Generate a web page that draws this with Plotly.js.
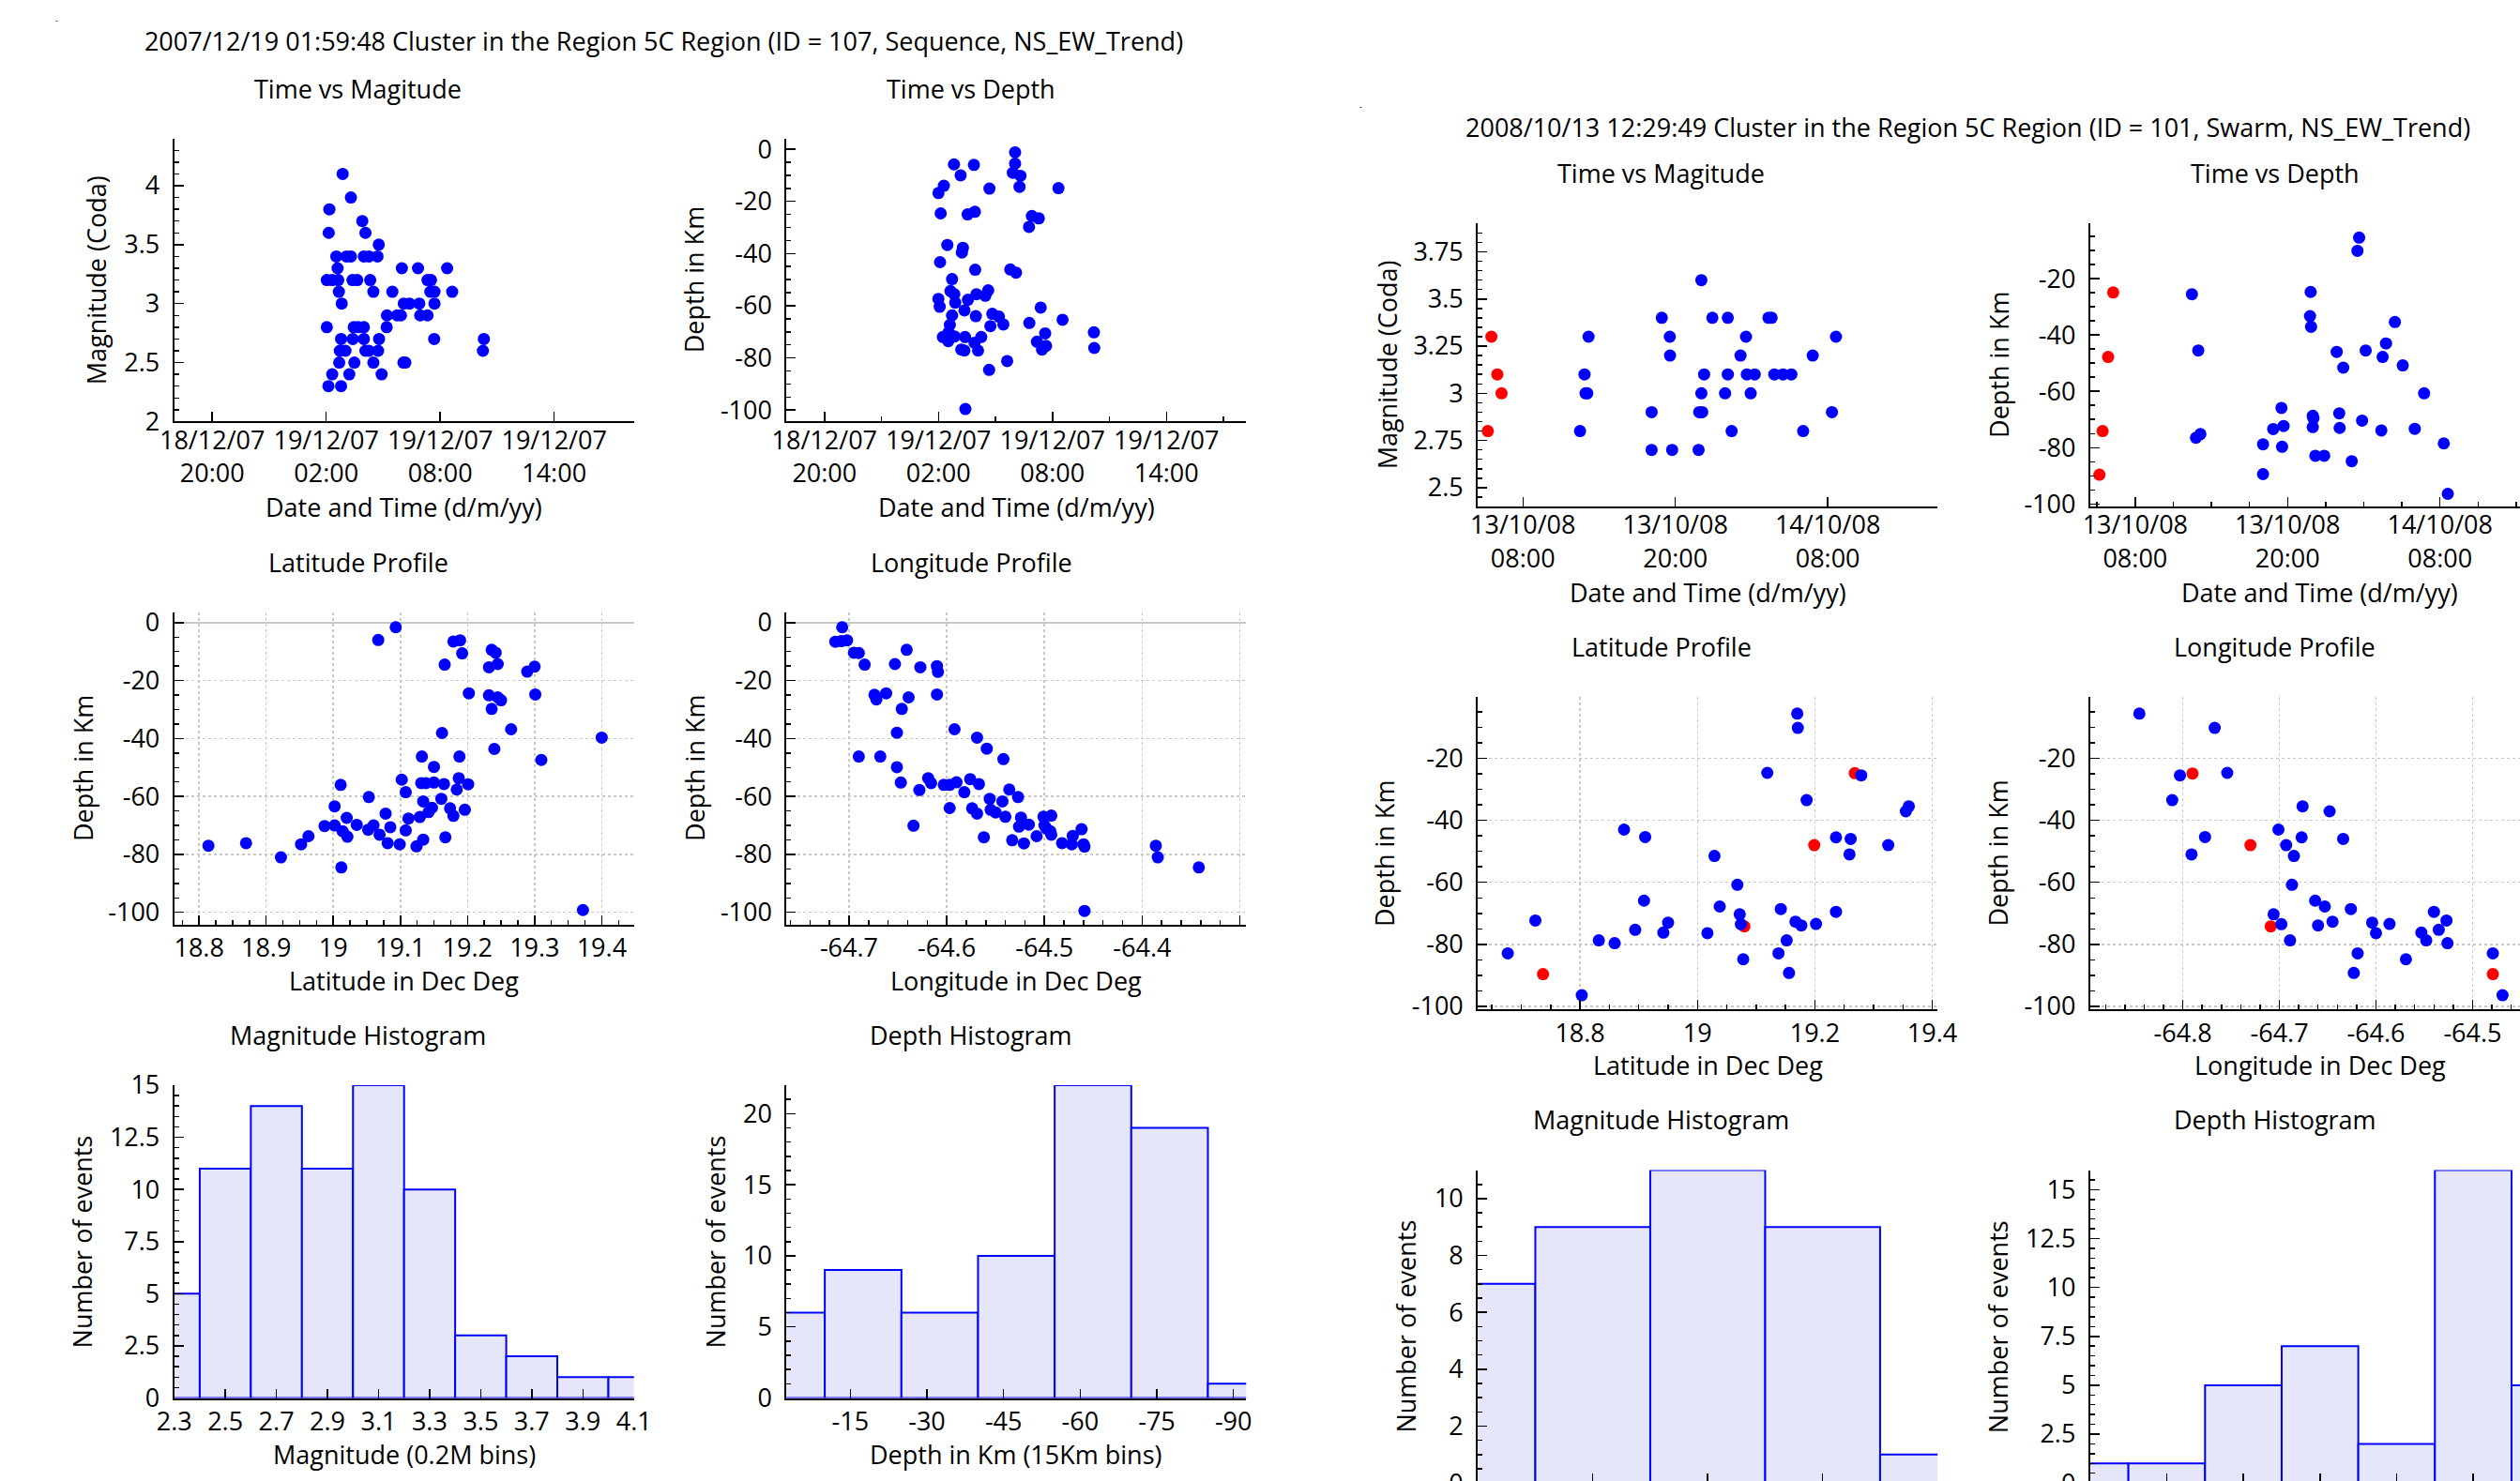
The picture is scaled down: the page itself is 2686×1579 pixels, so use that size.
<!DOCTYPE html>
<html><head><meta charset="utf-8">
<script src="https://cdn.plot.ly/plotly-3.0.1.min.js"></script>
<style>
html,body{margin:0;padding:0;overflow:hidden;background:#fff;width:2686px;height:1579px}
#wrap{width:2686px;height:1579px;overflow:hidden;position:relative}
#chart{width:2800px;height:1760px}
</style></head>
<body><div id="wrap"><div id="chart"></div></div>
<script>
// ---------------- Cluster ID 107 (Sequence) ----------------
const c107Title = '2007/12/19 01:59:48 Cluster in the Region 5C Region (ID = 107, Sequence, NS_EW_Trend)';
const c107MagTimes = ['2007-12-19 02:52','2007-12-19 03:18','2007-12-19 02:10','2007-12-19 02:08','2007-12-19 03:54','2007-12-19 04:04','2007-12-19 04:46','2007-12-19 02:32','2007-12-19 03:04','2007-12-19 03:18','2007-12-19 03:59','2007-12-19 04:15','2007-12-19 04:42','2007-12-19 02:36','2007-12-19 05:59','2007-12-19 06:50','2007-12-19 08:22','2007-12-19 02:02','2007-12-19 02:19','2007-12-19 02:38','2007-12-19 03:23','2007-12-19 03:38','2007-12-19 04:19','2007-12-19 07:20','2007-12-19 07:31','2007-12-19 02:40','2007-12-19 04:29','2007-12-19 05:29','2007-12-19 07:29','2007-12-19 07:42','2007-12-19 08:38','2007-12-19 02:49','2007-12-19 06:05','2007-12-19 06:23','2007-12-19 06:54','2007-12-19 07:42','2007-12-19 05:12','2007-12-19 05:44','2007-12-19 05:56','2007-12-19 06:57','2007-12-19 07:20','2007-12-19 02:02','2007-12-19 03:27','2007-12-19 03:41','2007-12-19 03:59','2007-12-19 05:11','2007-12-19 02:47','2007-12-19 03:24','2007-12-19 03:59','2007-12-19 04:47','2007-12-19 07:41','2007-12-19 10:18','2007-12-19 02:43','2007-12-19 03:01','2007-12-19 04:04','2007-12-19 04:15','2007-12-19 04:44','2007-12-19 10:15','2007-12-19 02:41','2007-12-19 03:29','2007-12-19 04:29','2007-12-19 06:04','2007-12-19 06:10','2007-12-19 02:19','2007-12-19 03:13','2007-12-19 04:55','2007-12-19 02:07','2007-12-19 02:47'];
const c107Mags = [4.1,3.9,3.8,3.6,3.7,3.6,3.5,3.4,3.4,3.4,3.4,3.4,3.4,3.3,3.3,3.3,3.3,3.2,3.2,3.2,3.2,3.2,3.2,3.2,3.2,3.1,3.1,3.1,3.1,3.1,3.1,3.0,3.0,3.0,3.0,3.0,2.9,2.9,2.9,2.9,2.9,2.8,2.8,2.8,2.8,2.8,2.7,2.7,2.7,2.7,2.7,2.7,2.6,2.6,2.6,2.6,2.6,2.6,2.5,2.5,2.5,2.5,2.5,2.4,2.4,2.4,2.3,2.3];
const c107DepthClock = ['06:02','06:02','05:55','06:19','06:16','02:49','03:52','03:10','02:17','02:00','04:41','08:19','02:07','03:32','03:55','06:55','07:17','06:46','02:28','03:17','03:14','02:05','03:56','05:47','06:05','02:43','01:59:48','02:04','02:38','02:50','02:53','03:33','04:00','04:28','04:37','03:22','07:23','02:43','03:58','04:50','05:11','05:25','04:44','06:47','08:32','02:36','02:32','02:14','02:31','02:51','03:24','04:15','03:54','04:05','03:12','03:22','07:37','07:11','07:40','07:27','10:11','10:12','05:37','04:40','03:25'];
const c107DepthsT = [-1.2,-5.5,-9.0,-10.2,-14.4,-5.8,-6.0,-10.0,-14.0,-16.8,-15.1,-14.9,-24.6,-25.0,-24.0,-25.6,-26.5,-29.8,-36.7,-37.8,-39.6,-43.3,-46.2,-46.1,-47.3,-49.8,-57.4,-60.4,-54.4,-55.6,-58.8,-57.7,-55.6,-56.2,-54.1,-61.8,-60.7,-63.7,-64.0,-63.1,-64.2,-67.2,-67.8,-66.6,-65.4,-67.3,-70.2,-72.0,-73.6,-71.8,-72.0,-72.0,-74.2,-77.2,-76.8,-77.2,-70.6,-73.8,-75.4,-76.8,-70.2,-76.2,-81.2,-84.6,-99.6];
const c107Lats = [19.093,19.067,19.179,19.189,19.192,19.166,19.236,19.242,19.232,19.245,19.289,19.300,19.202,19.232,19.245,19.250,19.236,19.301,19.265,19.162,19.400,19.240,19.310,19.132,19.188,19.150,19.102,19.131,19.138,19.150,19.165,19.187,19.201,19.184,19.011,19.108,19.053,19.161,19.134,19.002,19.147,19.174,19.196,19.078,19.142,19.179,19.020,19.112,19.129,18.987,19.002,19.035,19.060,19.085,19.052,19.014,19.108,19.069,19.021,18.963,18.952,19.167,19.134,19.081,19.099,19.124,18.814,18.870,18.922,19.012,19.372];
const c107DepthsLat = [-1.6,-6.0,-6.5,-6.1,-10.6,-14.5,-9.4,-10.4,-15.4,-14.3,-16.9,-15.2,-24.4,-25.1,-25.8,-26.8,-29.8,-24.8,-36.8,-38.1,-39.7,-43.6,-47.4,-46.2,-46.2,-49.8,-54.2,-55.4,-55.4,-55.2,-55.7,-53.7,-55.8,-57.6,-56.0,-58.5,-60.2,-60.8,-61.7,-63.4,-63.9,-64.1,-64.6,-65.9,-65.4,-66.7,-67.4,-67.6,-67.1,-70.2,-70.0,-69.8,-70.0,-70.6,-71.5,-72.0,-71.7,-73.2,-73.9,-73.7,-76.5,-74.1,-74.9,-76.1,-76.5,-77.2,-77.0,-76.1,-81.0,-84.5,-99.2];
const c107Lons = [-64.707,-64.714,-64.708,-64.702,-64.695,-64.690,-64.684,-64.641,-64.653,-64.627,-64.610,-64.609,-64.674,-64.672,-64.662,-64.639,-64.646,-64.610,-64.651,-64.592,-64.569,-64.559,-64.542,-64.690,-64.668,-64.651,-64.647,-64.628,-64.619,-64.616,-64.603,-64.597,-64.590,-64.576,-64.567,-64.582,-64.536,-64.527,-64.556,-64.543,-64.597,-64.574,-64.569,-64.555,-64.550,-64.540,-64.524,-64.501,-64.493,-64.526,-64.516,-64.500,-64.498,-64.494,-64.493,-64.508,-64.462,-64.471,-64.634,-64.562,-64.533,-64.521,-64.482,-64.472,-64.460,-64.459,-64.386,-64.384,-64.342,-64.459];
const c107DepthsLon = [-1.6,-6.6,-6.4,-6.1,-10.4,-10.5,-14.5,-9.4,-14.3,-15.4,-15.0,-17.0,-24.9,-26.5,-24.4,-25.8,-29.8,-24.8,-38.0,-36.8,-39.7,-43.5,-47.1,-46.2,-46.2,-49.9,-55.2,-57.8,-53.7,-55.4,-56.0,-56.0,-55.1,-54.0,-55.7,-58.5,-57.6,-60.2,-60.8,-61.7,-64.0,-64.1,-65.9,-64.6,-65.5,-67.0,-67.3,-67.0,-66.6,-70.4,-69.7,-70.0,-71.1,-72.0,-73.2,-73.7,-71.3,-73.6,-70.1,-74.1,-75.1,-76.2,-76.1,-76.5,-76.5,-77.3,-77.0,-81.0,-84.5,-99.5];
const c107MagBins = [2.3,2.5,2.7,2.9,3.1,3.3,3.5,3.7,3.9,4.1];
const c107MagCounts = [5,11,14,11,15,10,3,2,1,1];
const c107DepthBins = [-2.5,-17.5,-32.5,-47.5,-62.5,-77.5,-92.5];
const c107DepthCounts = [6,9,6,10,22,19,1];

// ---------------- Cluster ID 101 (Swarm) ----------------
const c101Title = '2008/10/13 12:29:49 Cluster in the Region 5C Region (ID = 101, Swarm, NS_EW_Trend)';
const c101PrevMagTimes = ['2008-10-13 05:31','2008-10-13 05:59','2008-10-13 06:19','2008-10-13 05:14'];
const c101PrevMags = [3.3,3.1,3.0,2.8];
const c101MagTimes = ['2008-10-13 13:10','2008-10-13 12:51','2008-10-13 12:56','2008-10-13 13:04','2008-10-13 12:29:49','2008-10-13 18:08','2008-10-13 18:08','2008-10-13 18:56','2008-10-13 19:34','2008-10-13 19:35','2008-10-13 19:45','2008-10-13 22:03','2008-10-13 22:55','2008-10-14 00:08','2008-10-13 22:16','2008-10-13 22:03','2008-10-13 21:53','2008-10-13 22:07','2008-10-13 21:50','2008-10-14 00:08','2008-10-13 23:55','2008-10-14 00:26','2008-10-14 01:08','2008-10-14 01:34','2008-10-14 01:38','2008-10-14 02:15','2008-10-14 01:56','2008-10-14 03:20','2008-10-14 03:35','2008-10-14 03:48','2008-10-14 04:29','2008-10-14 05:08','2008-10-14 06:49','2008-10-14 06:04','2008-10-14 08:39','2008-10-14 08:20'];
const c101Mags = [3.3,3.1,3.0,3.0,2.8,2.9,2.7,3.4,3.3,3.2,2.7,3.6,3.4,3.4,3.1,3.0,2.9,2.9,2.7,3.1,3.0,2.8,3.2,3.3,3.1,3.1,3.0,3.4,3.4,3.1,3.1,3.1,3.2,2.8,3.3,2.9];
const c101PrevDepthTimes = ['2008-10-13 06:16','2008-10-13 05:52','2008-10-13 05:26','2008-10-13 05:11'];
const c101PrevDepthsT = [-24.9,-47.8,-74.1,-89.6];
const c101DepthTimes = ['2008-10-13 12:28','2008-10-13 12:58','2008-10-13 12:47','2008-10-13 13:08','2008-10-13 18:04','2008-10-13 18:04','2008-10-13 18:52','2008-10-13 19:41','2008-10-13 19:31','2008-10-13 19:34','2008-10-13 21:49','2008-10-13 21:46','2008-10-13 21:51','2008-10-13 21:59','2008-10-13 22:02','2008-10-13 21:59','2008-10-13 22:11','2008-10-13 22:53','2008-10-13 23:52','2008-10-14 00:23','2008-10-14 00:04','2008-10-14 00:06','2008-10-14 01:03','2008-10-14 01:38','2008-10-14 01:30','2008-10-14 02:09','2008-10-14 01:52','2008-10-14 03:45','2008-10-14 03:29','2008-10-14 04:27','2008-10-14 05:04','2008-10-14 03:23','2008-10-14 06:45','2008-10-14 06:01','2008-10-14 08:18','2008-10-14 08:37'];
const c101DepthsT = [-25.5,-45.5,-76.5,-75.2,-78.8,-89.4,-73.4,-72.3,-65.9,-79.7,-24.7,-33.3,-37.1,-68.7,-69.6,-72.7,-82.9,-82.9,-46.0,-51.6,-67.8,-73.0,-84.8,-5.4,-10.1,-45.5,-70.4,-43.0,-47.8,-35.4,-50.8,-73.9,-60.7,-73.3,-78.5,-96.4];
const c101PrevLats = [18.737,19.080,19.199,19.268];
const c101PrevDepthsLat = [-89.6,-74.2,-48.0,-24.8];
const c101Lats = [18.677,18.724,18.803,18.832,18.859,18.875,18.911,18.909,18.894,18.942,18.950,19.017,19.029,19.038,19.068,19.072,19.074,19.078,19.119,19.170,19.171,19.186,19.142,19.167,19.177,19.202,19.152,19.138,19.156,19.236,19.236,19.261,19.259,19.279,19.325,19.355,19.360];
const c101DepthsLat = [-82.9,-72.3,-96.4,-78.7,-79.6,-43.0,-45.4,-65.9,-75.3,-76.2,-73.0,-76.4,-51.5,-67.8,-60.8,-70.3,-73.5,-84.8,-24.7,-5.6,-10.2,-33.5,-68.6,-72.7,-73.9,-73.4,-78.7,-82.9,-89.2,-69.5,-45.5,-46.0,-51.0,-25.5,-48.0,-37.1,-35.5];
const c101PrevLons = [-64.790,-64.730,-64.709,-64.479];
const c101PrevDepthsLon = [-24.9,-48.0,-74.2,-89.6];
const c101Lons = [-64.845,-64.767,-64.803,-64.754,-64.811,-64.777,-64.791,-64.701,-64.693,-64.676,-64.677,-64.685,-64.648,-64.634,-64.687,-64.706,-64.698,-64.689,-64.663,-64.653,-64.660,-64.645,-64.626,-64.619,-64.623,-64.604,-64.600,-64.586,-64.569,-64.553,-64.548,-64.540,-64.535,-64.527,-64.526,-64.479,-64.469];
const c101DepthsLon = [-5.6,-10.2,-25.5,-24.7,-33.5,-45.4,-51.0,-43.0,-48.0,-35.5,-45.5,-51.5,-37.1,-46.0,-60.8,-70.3,-73.5,-78.7,-65.9,-67.8,-73.9,-72.7,-68.6,-82.9,-89.2,-73.0,-76.4,-73.4,-84.8,-76.2,-78.7,-69.5,-75.3,-72.3,-79.6,-82.9,-96.4];
const c101MagBins = [2.7,2.9,3.1,3.3,3.5];
const c101MagCounts = [7,9,11,9,1];
const c101DepthBins = [0,-15,-30,-45,-60,-75,-90];
const c101DepthCounts = [1,1,5,7,2,16,5];

// tick label arrays (hyphen-minus labels)
const depthTicks = [0,-20,-40,-60,-80,-100];
const depthTickText = ['0','-20','-40','-60','-80','-100'];
const depthHistTicks = [-15,-30,-45,-60,-75,-90];
const depthHistTickText = ['-15','-30','-45','-60','-75','-90'];
const lonTicks107 = [-64.7,-64.6,-64.5,-64.4,-64.3];
const lonTickText107 = ['-64.7','-64.6','-64.5','-64.4',''];
const lonTicks101 = [-64.8,-64.7,-64.6,-64.5,-64.4];
const lonTickText101 = ['-64.8','-64.7','-64.6','-64.5','-64.4'];

// ---------------- layout geometry (pixels) ----------------
const W = 2800, H = 1760;
const GX = [0, 1389.5], GY = [0, 90.6];
const colX = [[185.7, 675.7], [838.3, 1328.3]];
const rowY = [[147.7, 449.4], [652.7, 985.7], [1157, 1490.5]];
const subTitleX = [381.5, 1035];
const subTitleY = [94.4, 599.3, 1103.3];
const superTitle = [707.5, 45];
const xTitleGap = [91, 59.3, 59.5];                       // axis line -> x title centre, per row
const yTitleGap = [[[83, 98.6], [97.8, 98.6], [98, 75.6]],   // axis line -> y title centre, [group][row][col]
                   [[97, 98], [99, 98], [77, 98]]];

const BLUE = '#0000ff', RED = '#ff0000', FILL = '#e6e6fa';
const FONT = 'Open Sans, Noto Sans, sans-serif';
const FS = 27;

function xd(a, b) { return [a / W, b / W]; }
function yd(t, b) { return [1 - b / H, 1 - t / H]; }
const base = {
  showline: true, linecolor: '#000', linewidth: 2,
  ticks: 'inside', ticklen: 10, tickwidth: 1.5, tickcolor: '#000',
  showgrid: false, zeroline: false, fixedrange: true, automargin: false,
  tickfont: {family: FONT, size: FS, color: '#000'}
};
function minor(dtick, tick0) {
  return {ticks: 'inside', ticklen: 5, tickwidth: 1.5, tickcolor: '#000', showgrid: false, tickmode: 'linear', dtick: dtick, tick0: tick0 === undefined ? 0 : tick0};
}
const grid = {showgrid: true, gridcolor: '#c8c8c8', gridwidth: 1.5, griddash: '3px,3px'};
const tfont = {family: FONT, size: FS, color: '#000'};

const fig = {data: [], layout: {
  width: W, height: H, margin: {l: 0, r: 0, t: 0, b: 0, pad: 0}, autosize: false,
  paper_bgcolor: '#fff', plot_bgcolor: '#fff', showlegend: false,
  font: tfont,
  title: {text: c107Title, x: superTitle[0] / W, y: 1 - superTitle[1] / H, xref: 'container', yref: 'container', xanchor: 'center', yanchor: 'middle', font: tfont},
  annotations: []
}};
function note(text, px, py, extra) {
  fig.layout.annotations.push(Object.assign({text: text, xref: 'paper', yref: 'paper', x: px / W, y: 1 - py / H,
    xanchor: 'center', yanchor: 'middle', showarrow: false, font: tfont}, extra || {}));
}
let n = 0;
function addSub(g, col, row, title, xTitle, yTitle, traces, xa, ya) {
  n++;
  const xid = n === 1 ? 'x' : 'x' + n, yid = n === 1 ? 'y' : 'y' + n;
  const ox = GX[g], oy = GY[g];
  const x0 = colX[col][0] + ox, x1 = colX[col][1] + ox, y0 = rowY[row][0] + oy, y1 = rowY[row][1] + oy;
  traces.forEach(t => { t.xaxis = xid; t.yaxis = yid; t.hoverinfo = 'skip'; fig.data.push(t); });
  fig.layout[n === 1 ? 'xaxis' : 'xaxis' + n] = Object.assign({}, base, {ticklabelstandoff: 0}, xa, {domain: xd(x0, x1), anchor: yid});
  fig.layout[n === 1 ? 'yaxis' : 'yaxis' + n] = Object.assign({}, base, {ticklabelstandoff: 8}, ya, {domain: yd(y0, y1), anchor: xid});
  note(title, subTitleX[col] + ox, subTitleY[row] + oy);
  note(xTitle, (x0 + x1) / 2, y1 + xTitleGap[row]);
  note(yTitle, x0 - yTitleGap[g][row][col], (y0 + y1) / 2, {textangle: -90});
}
function pts(x, y, color) { return {type: 'scatter', mode: 'markers', x: x, y: y, marker: {color: color, size: 13, line: {width: 0}}}; }
function bars(x, y, w) { return {type: 'bar', x: x, y: y, width: w, marker: {color: FILL, line: {color: BLUE, width: 2}}}; }
function arr(v, t) { return {tickmode: 'array', tickvals: v, ticktext: t}; }

const dateTitle = 'Date and Time (d/m/yy)';
const dateFmt = '%d/%m/%y<br>%H:%M';
// ---- Group 107 ----
addSub(0, 0, 0, 'Time vs Magitude', dateTitle, 'Magnitude (Coda)', [pts(c107MagTimes, c107Mags, BLUE)],
  {type: 'date', range: ['2007-12-18 18:00', '2007-12-19 18:12'], tickmode: 'linear', tick0: '2007-12-18 20:00', dtick: 6 * 3600e3, tickformat: dateFmt, ticklabelstandoff: -5},
  {range: [2, 4.4], tickmode: 'linear', tick0: 0, dtick: 0.5, minor: minor(0.1)});
addSub(0, 1, 0, 'Time vs Depth', dateTitle, 'Depth in Km', [pts(c107DepthClock.map(t => '2007-12-19 ' + t), c107DepthsT, BLUE)],
  {type: 'date', range: ['2007-12-18 18:00', '2007-12-19 18:12'], tickmode: 'linear', tick0: '2007-12-18 20:00', dtick: 6 * 3600e3, tickformat: dateFmt, ticklabelstandoff: -5, minor: minor(3 * 3600e3, '2007-12-18 20:00')},
  Object.assign({range: [-104.4, 4.1], minor: minor(5)}, arr(depthTicks, depthTickText)));
addSub(0, 0, 1, 'Latitude Profile', 'Latitude in Dec Deg', 'Depth in Km', [pts(c107Lats, c107DepthsLat, BLUE)],
  Object.assign({range: [18.763, 19.448], tickmode: 'linear', tick0: 18.8, dtick: 0.1, minor: minor(0.025, 18.8)}, grid),
  Object.assign({range: [-104.2, 3.6], minor: minor(5), zeroline: true, zerolinecolor: '#c8c8c8', zerolinewidth: 2}, grid, arr(depthTicks, depthTickText)));
addSub(0, 1, 1, 'Longitude Profile', 'Longitude in Dec Deg', 'Depth in Km', [pts(c107Lons, c107DepthsLon, BLUE)],
  Object.assign({range: [-64.764, -64.2935], minor: minor(0.02, -64.7)}, grid, arr(lonTicks107, lonTickText107)),
  Object.assign({range: [-104.2, 3.6], minor: minor(5), zeroline: true, zerolinecolor: '#c8c8c8', zerolinewidth: 2}, grid, arr(depthTicks, depthTickText)));
addSub(0, 0, 2, 'Magnitude Histogram', 'Magnitude (0.2M bins)', 'Number of events', [bars(c107MagBins, c107MagCounts, 0.2)],
  {range: [2.3, 4.1], tickmode: 'linear', tick0: 2.3, dtick: 0.2},
  {range: [0, 15], tickmode: 'linear', tick0: 0, dtick: 2.5, minor: minor(0.5)});
addSub(0, 1, 2, 'Depth Histogram', 'Depth in Km (15Km bins)', 'Number of events', [bars(c107DepthBins, c107DepthCounts, 15)],
  Object.assign({range: [-2.5, -92.5]}, arr(depthHistTicks, depthHistTickText)),
  {range: [0, 22], tickmode: 'linear', tick0: 0, dtick: 5, minor: minor(1)});

// ---- Group 101 ----
addSub(1, 0, 0, 'Time vs Magitude', dateTitle, 'Magnitude (Coda)', [pts(c101PrevMagTimes, c101PrevMags, RED), pts(c101MagTimes, c101Mags, BLUE)],
  {type: 'date', range: ['2008-10-13 04:27', '2008-10-14 16:39'], tickmode: 'linear', tick0: '2008-10-13 08:00', dtick: 12 * 3600e3, tickformat: dateFmt, ticklabelstandoff: -5},
  {range: [2.4, 3.9], tickmode: 'linear', tick0: 0, dtick: 0.25, minor: minor(0.05)});
addSub(1, 1, 0, 'Time vs Depth', dateTitle, 'Depth in Km', [pts(c101PrevDepthTimes, c101PrevDepthsT, RED), pts(c101DepthTimes, c101DepthsT, BLUE)],
  {type: 'date', range: ['2008-10-13 04:27', '2008-10-14 16:39'], tickmode: 'linear', tick0: '2008-10-13 08:00', dtick: 12 * 3600e3, tickformat: dateFmt, ticklabelstandoff: -5, minor: minor(3 * 3600e3, '2008-10-13 08:00')},
  Object.assign({range: [-100.9, -0.4], minor: minor(5)}, arr(depthTicks, depthTickText)));
addSub(1, 0, 1, 'Latitude Profile', 'Latitude in Dec Deg', 'Depth in Km', [pts(c101PrevLats, c101PrevDepthsLat, RED), pts(c101Lats, c101DepthsLat, BLUE)],
  Object.assign({range: [18.626, 19.409], tickmode: 'linear', tick0: 18.8, dtick: 0.2, minor: minor(0.05, 18.8)}, grid),
  Object.assign({range: [-101, -0.3], minor: minor(5)}, grid, arr(depthTicks, depthTickText)));
addSub(1, 1, 1, 'Longitude Profile', 'Longitude in Dec Deg', 'Depth in Km', [pts(c101PrevLons, c101PrevDepthsLon, RED), pts(c101Lons, c101DepthsLon, BLUE)],
  Object.assign({range: [-64.896, -64.42], minor: minor(0.02, -64.8)}, grid, arr(lonTicks101, lonTickText101)),
  Object.assign({range: [-101, -0.3], minor: minor(5)}, grid, arr(depthTicks, depthTickText)));
addSub(1, 0, 2, 'Magnitude Histogram', 'Magnitude (0.2M bins)', 'Number of events', [bars(c101MagBins, c101MagCounts, 0.2)],
  {range: [2.7, 3.5], tickmode: 'linear', tick0: 2.7, dtick: 0.2},
  {range: [0, 11], tickmode: 'linear', tick0: 0, dtick: 2, minor: minor(0.5)});
addSub(1, 1, 2, 'Depth Histogram', 'Depth in Km (15Km bins)', 'Number of events', [bars(c101DepthBins, c101DepthCounts, 15)],
  Object.assign({range: [0, -90]}, arr(depthHistTicks, depthHistTickText)),
  {range: [0, 16], tickmode: 'linear', tick0: 0, dtick: 2.5, minor: minor(0.5)});

// right group super title and tiny marks
note(c101Title, superTitle[0] + GX[1], superTitle[1] + GY[1]);
note('-', 60, 22, {font: {family: FONT, size: 9, color: '#000'}});
note('-', 1450, 113, {font: {family: FONT, size: 9, color: '#000'}});

Plotly.newPlot('chart', fig.data, fig.layout, {staticPlot: true, displayModeBar: false});
</script></body></html>
